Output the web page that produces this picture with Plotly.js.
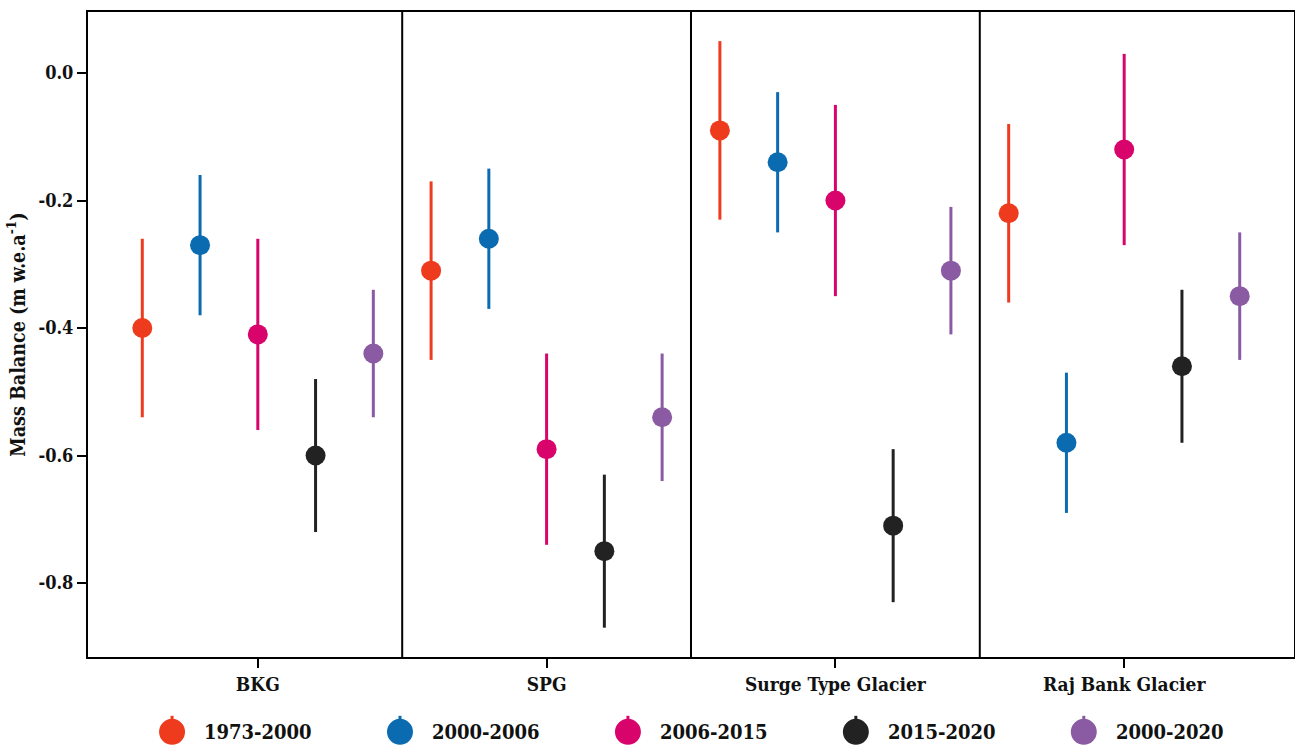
<!DOCTYPE html>
<html>
<head>
<meta charset="utf-8">
<script src="https://cdn.plot.ly/plotly-3.0.1.min.js"></script>
<style>html,body{margin:0;padding:0;background:#fff;}#chart{width:1295px;height:745px;}</style>
</head>
<body>
<div id="chart"></div>
<script>
const glaciers = ["BKG", "SPG", "Surge Type Glacier", "Raj Bank Glacier"];
const periods = ["1973-2000", "2000-2006", "2006-2015", "2015-2020", "2000-2020"];
const colors = ["#ee3a1d", "#0a6bb0", "#d9046b", "#222222", "#8a5aa3"];
// mean mass balance per period, one value per glacier
const mb_1973_2000 = [-0.40, -0.31, -0.09, -0.22];
const mb_2000_2006 = [-0.27, -0.26, -0.14, -0.58];
const mb_2006_2015 = [-0.41, -0.59, -0.20, -0.12];
const mb_2015_2020 = [-0.60, -0.75, -0.71, -0.46];
const mb_2000_2020 = [-0.44, -0.54, -0.31, -0.35];
// uncertainty (± half-length of error bar)
const err_1973_2000 = [0.14, 0.14, 0.14, 0.14];
const err_2000_2006 = [0.11, 0.11, 0.11, 0.11];
const err_2006_2015 = [0.15, 0.15, 0.15, 0.15];
const err_2015_2020 = [0.12, 0.12, 0.12, 0.12];
const err_2000_2020 = [0.10, 0.10, 0.10, 0.10];
const yTickVals = [0.0, -0.2, -0.4, -0.6, -0.8];
const yTickText = ["0.0", "-0.2", "-0.4", "-0.6", "-0.8"];

const values = [mb_1973_2000, mb_2000_2006, mb_2006_2015, mb_2015_2020, mb_2000_2020];
const errors = [err_1973_2000, err_2000_2006, err_2006_2015, err_2015_2020, err_2000_2020];
const dodge = 0.2;
const font = "'DejaVu Serif Condensed', 'DejaVu Serif', serif";
const txt = "#111";

const traces = periods.map((p, k) => ({
  type: "scatter",
  mode: "markers",
  name: p,
  x: glaciers.map((g, i) => i + (k - 2) * dodge),
  y: values[k],
  error_y: {type: "data", array: errors[k], visible: true, color: colors[k], thickness: 3, width: 0},
  marker: {color: colors[k], size: 20},
  hoverinfo: "y+name",
  showlegend: false
}));

const shapes = glaciers.slice(1).map((g, i) => ({
  type: "line", xref: "x", yref: "paper", x0: i + 0.5, x1: i + 0.5, y0: 0, y1: 1,
  line: {color: "#000", width: 2}
}));

// custom legend (larger markers than Plotly's legend allows)
const legX0 = 0.0697, legStep = 0.189, legY = -0.116;
const annotations = [];
periods.forEach((p, k) => {
  const cx = legX0 + k * legStep;
  shapes.push({
    type: "circle", xref: "paper", yref: "paper", xsizemode: "pixel", ysizemode: "pixel",
    xanchor: cx, yanchor: legY, x0: -13, x1: 13, y0: -13, y1: 13,
    fillcolor: colors[k], line: {width: 0}
  });
  shapes.push({
    type: "line", xref: "paper", yref: "paper", xsizemode: "pixel", ysizemode: "pixel",
    xanchor: cx, yanchor: legY, x0: 0, x1: 0, y0: 12, y1: 16,
    line: {color: colors[k], width: 3}
  });
  annotations.push({
    xref: "paper", yref: "paper", x: cx, y: legY, xshift: 30, xanchor: "left", yanchor: "middle",
    showarrow: false, text: p, font: {family: font, size: 20, color: txt, weight: "bold"}
  });
});

const layout = {
  width: 1295, height: 745,
  margin: {l: 88, r: 1, t: 12, b: 88, autoexpand: false},
  paper_bgcolor: "#fff", plot_bgcolor: "#fff",
  font: {family: font, color: txt, weight: "bold"},
  showlegend: false,
  xaxis: {
    range: [-0.588, 3.588], tickvals: [0, 1, 2, 3], ticktext: glaciers,
    showgrid: false, zeroline: false, showline: true, mirror: true, linecolor: "#000", linewidth: 2,
    ticks: "outside", ticklen: 9, tickwidth: 2, tickcolor: "#000",
    tickfont: {family: font, size: 19, color: txt, weight: "bold"}
  },
  yaxis: {
    range: [-0.916, 0.0957], tickvals: yTickVals, ticktext: yTickText,
    showgrid: false, zeroline: false, showline: true, mirror: true, linecolor: "#000", linewidth: 2,
    ticks: "outside", ticklen: 9, tickwidth: 2, tickcolor: "#000",
    tickfont: {family: font, size: 18, color: txt, weight: "bold"},
    title: {text: "Mass Balance (m w.e.a<sup>-1</sup>)", font: {family: font, size: 19.5, color: txt, weight: "bold"}, standoff: 8}
  },
  shapes: shapes,
  annotations: annotations
};

Plotly.newPlot("chart", traces, layout, {displayModeBar: false, staticPlot: true});
</script>
</body>
</html>
